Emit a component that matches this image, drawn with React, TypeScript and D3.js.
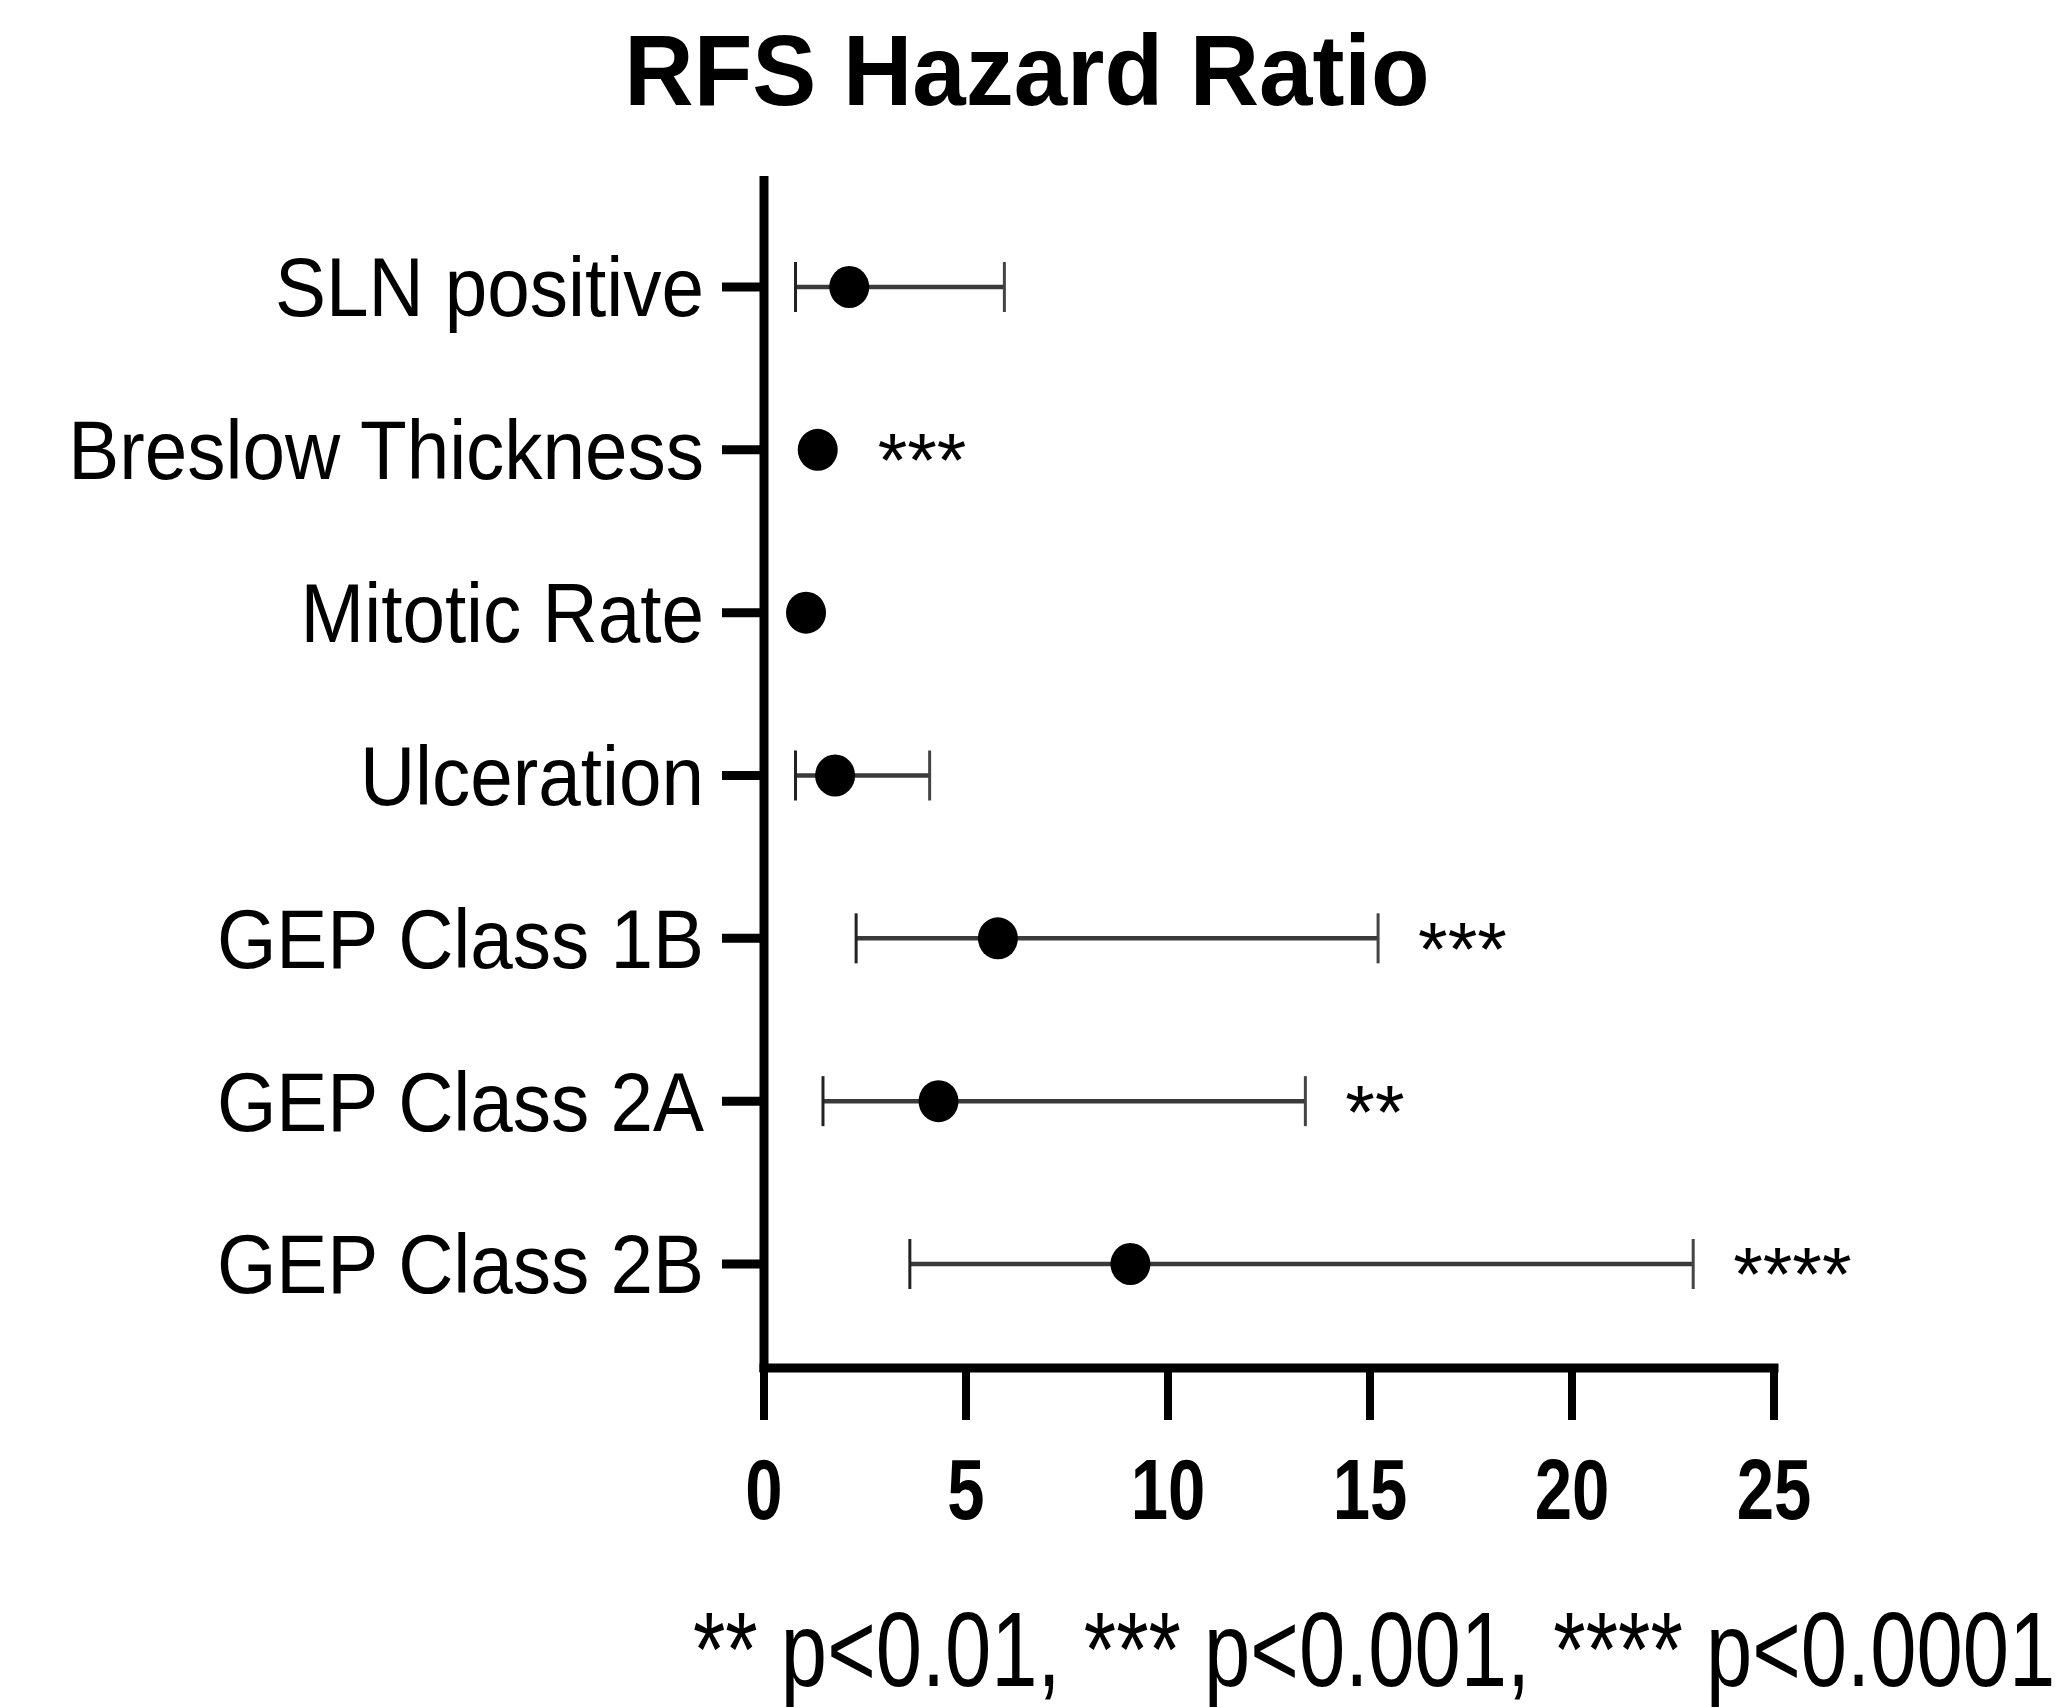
import React from 'react';
import * as d3 from 'd3';

const categories = [
    'SLN positive',
    'Breslow Thickness',
    'Mitotic Rate',
    'Ulceration',
    'GEP Class 1B',
    'GEP Class 2A',
    'GEP Class 2B',
];
const hazard = [2.11, 1.33, 1.04, 1.76, 5.79, 4.32, 9.07];
const ciLow: (number | null)[] = [0.78, null, null, 0.78, 2.28, 1.46, 3.61];
const ciHigh: (number | null)[] = [5.95, null, null, 4.1, 15.2, 13.4, 23.0];
const stars = ['', '***', '', '', '***', '**', '****'];
const xTicks = [0, 5, 10, 15, 20, 25];

const title = 'RFS Hazard Ratio';
const footnote = '** p<0.01, *** p<0.001, **** p<0.0001';

const W = 2062;
const H = 1707;
const FONT = "'Liberation Sans', Arial, sans-serif";

export default function App() {
    const axisX = 764;
    const axisBottom = 1368;
    const axisTop = 176;

    const x = d3.scaleLinear().domain([0, 25]).range([axisX, 1774]);
    const y = d3.scalePoint<string>().domain(categories).range([287, 1264]);

    const r = 20;
    const capH = 50;

    return (
        <svg width={W} height={H} style={{ position: 'absolute', left: 0, top: 0, background: '#fff' }}>
            <rect width={W} height={H} fill="#fff" />
            {/* title */}
            <text transform="translate(1027,105) scale(1,1.04)" textAnchor="middle" fontFamily={FONT} fontWeight="bold" fontSize={96}>
                {title}
            </text>

            {/* y axis */}
            <line x1={axisX} x2={axisX} y1={axisTop} y2={axisBottom + 4} stroke="#000" strokeWidth={9} />
            {categories.map(c => (
                <g key={c}>
                    <line x1={722} x2={axisX} y1={y(c)} y2={y(c)} stroke="#000" strokeWidth={9} />
                    <text
                        transform={`translate(704,${y(c)}) scale(0.91,1)`}
                        dy="0.35em"
                        textAnchor="end"
                        fontFamily={FONT}
                        fontSize={84}
                    >
                        {c}
                    </text>
                </g>
            ))}

            {/* x axis */}
            <line x1={axisX - 4.5} x2={x(25) + 4.5} y1={axisBottom} y2={axisBottom} stroke="#000" strokeWidth={9} />
            {xTicks.map(t => (
                <g key={t}>
                    <line x1={x(t)} x2={x(t)} y1={axisBottom} y2={1420} stroke="#000" strokeWidth={8} />
                    <text
                        transform={`translate(${x(t)},1519) scale(0.78,1)`}
                        textAnchor="middle"
                        fontFamily={FONT}
                        fontWeight="bold"
                        fontSize={86}
                    >
                        {t}
                    </text>
                </g>
            ))}

            {/* error bars and points */}
            {categories.map((c, i) => {
                const cy = y(c) as number;
                const lo = ciLow[i];
                const hi = ciHigh[i];
                const anchor = hi != null ? x(hi) : x(hazard[i]) + r;
                return (
                    <g key={c + '-mark'}>
                        {lo != null && hi != null && (
                            <>
                                <line x1={x(lo)} x2={x(hi)} y1={cy} y2={cy} stroke="#3a3a3a" strokeWidth={4.5} />
                                <line x1={x(lo)} x2={x(lo)} y1={cy - capH / 2} y2={cy + capH / 2} stroke="#222" strokeWidth={3} />
                                <line x1={x(hi)} x2={x(hi)} y1={cy - capH / 2} y2={cy + capH / 2} stroke="#444" strokeWidth={3} />
                            </>
                        )}
                        <ellipse cx={x(hazard[i])} cy={cy} rx={r} ry={r + 1} fill="#000" />
                        {stars[i] && (
                            <text
                                x={anchor + 40}
                                y={cy}
                                dy="0.48em"
                                fontFamily={FONT}
                                fontSize={76}
                            >
                                {stars[i]}
                            </text>
                        )}
                    </g>
                );
            })}

            {/* footnote */}
            <text transform={`translate(693,1686) scale(0.785,1)`} fontFamily={FONT} fontSize={106}>
                {footnote}
            </text>
        </svg>
    );
}
